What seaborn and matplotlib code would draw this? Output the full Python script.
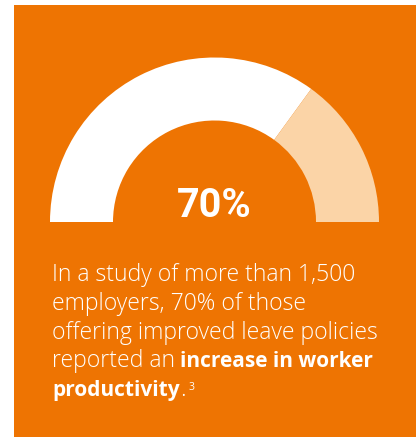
import matplotlib
matplotlib.use("Agg")
import matplotlib.pyplot as plt
import seaborn as sns
from matplotlib.patches import Rectangle

# ---- data ----
share_labels = ["Reported productivity increase", "Other"]
share_values = [70, 30]
center_label = "70%"
caption_lines = [
    [("In a study of more than 1,500", "light")],
    [("employers, 70% of those", "light")],
    [("offering improved leave policies", "light")],
    [("reported an", "light"), (" ", "space"), ("increase in worker", "bold")],
    [("productivity", "bold"), (".", "light"), ("3", "sup")],
]

ORANGE = "#EE7402"
PEACH = "#FBD4A7"

sns.set_theme(style="white")
plt.rcParams['font.family'] = ['Open Sans', 'DejaVu Sans']

W, H = 416, 437
fig = plt.figure(figsize=(W / 100, H / 100), dpi=100)
fig.patch.set_facecolor("white")
fig.add_artist(Rectangle((14 / W, 0), (W - 14) / W, (H - 5) / H,
                         transform=fig.transFigure, facecolor=ORANGE,
                         edgecolor='none', zorder=0))

# ---- gauge (half donut) ----
cx, cy, R, r_in = 214.5, H - 222, 164.5, 101.5
ax = fig.add_axes([(cx - R) / W, (cy - R) / H, 2 * R / W, 2 * R / H])
ax.set_facecolor((0, 0, 0, 0))
pal = sns.color_palette(["white", PEACH])
wedges, _ = ax.pie(share_values + [sum(share_values)],
                   colors=list(pal) + [(0, 0, 0, 0)],
                   startangle=180, counterclock=False, radius=1,
                   wedgeprops=dict(width=(R - r_in) / R, edgecolor='none', linewidth=0))
wedges[-1].set_visible(False)
ax.set_xlim(-1, 1)
ax.set_ylim(-1, 1)
ax.axis('off')

fig.text(cx / W, (H - 217) / H, center_label, ha='center', va='baseline',
         fontsize=28.5, fontweight='bold', color='white',
         family=['Roboto', 'DejaVu Sans'])

# ---- caption ----
renderer = fig.canvas.get_renderer()
FS_LIGHT = 16.6
FS_BOLD = 15.0
x0 = 52.5
base0 = 281.3
step = 28.7


def width_of(s, weight, size):
    t = fig.text(0, 0, s, fontsize=size, fontweight=weight)
    w = t.get_window_extent(renderer=renderer).width
    t.remove()
    return w


space_w = 0.8 * (width_of("n n", "light", FS_LIGHT) - width_of("nn", "light", FS_LIGHT))

for i, line in enumerate(caption_lines):
    x = x0
    yb = base0 + i * step
    for s, kind in line:
        if kind == "space":
            x += space_w
            continue
        if kind == "sup":
            x += 2.5
            t = fig.text(x / W, (H - (yb - 6)) / H, s, fontsize=7.5, fontweight='normal',
                         color='white', va='baseline', ha='left')
        elif kind == "bold":
            t = fig.text(x / W, (H - yb) / H, s, fontsize=FS_BOLD, fontweight='bold',
                         color='white', va='baseline', ha='left')
        else:
            t = fig.text(x / W, (H - yb) / H, s, fontsize=FS_LIGHT, fontweight='light',
                         color='white', va='baseline', ha='left')
        x += t.get_window_extent(renderer=renderer).width

fig.savefig("out.png", dpi=100, facecolor=fig.get_facecolor())
